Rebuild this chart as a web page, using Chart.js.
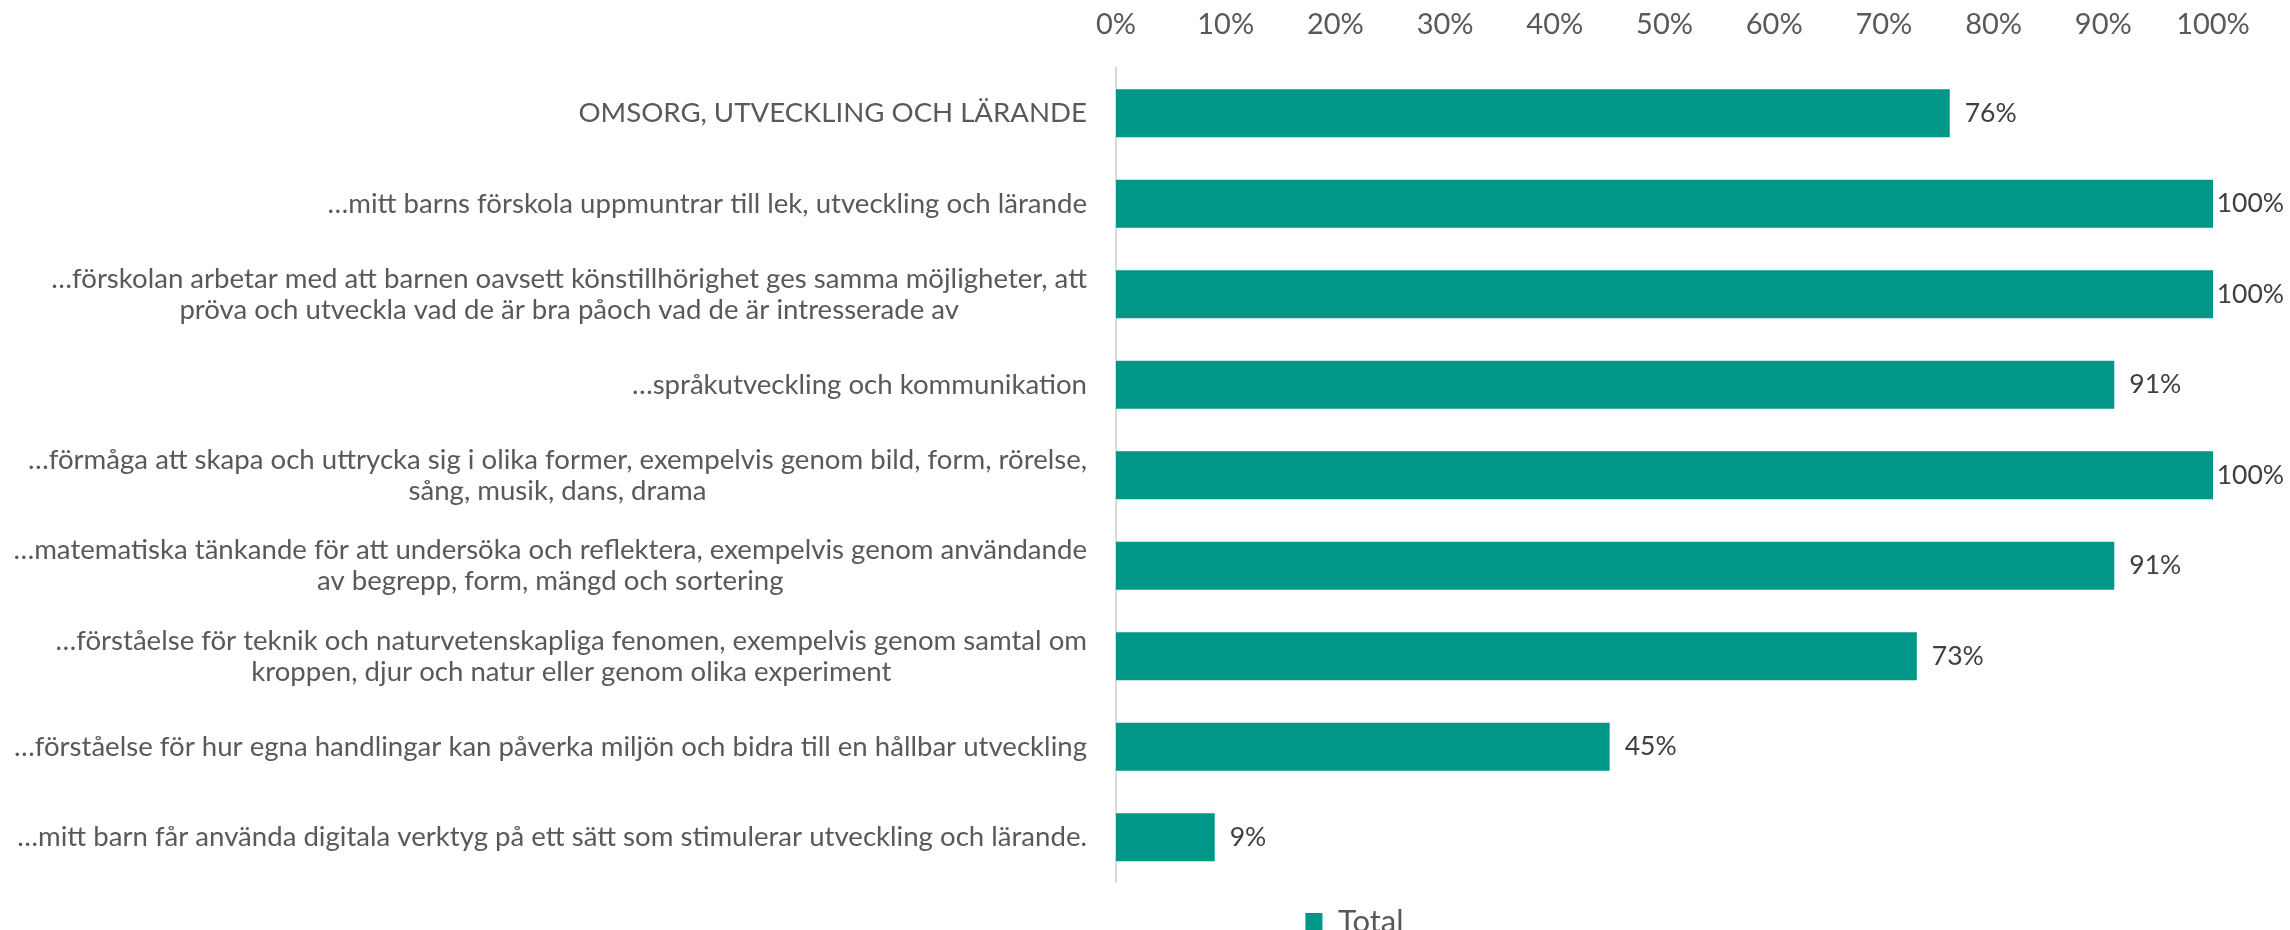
<!DOCTYPE html>
<html>
<head>
<meta charset="utf-8">
<script src="https://cdn.jsdelivr.net/npm/chart.js@4/dist/chart.umd.min.js"></script>
<style>
  html, body { margin: 0; padding: 0; background: #fff; overflow: hidden; }
  #wrap { width: 2290px; height: 947px; }
</style>
</head>
<body>
<div id="wrap"><canvas id="grafica" width="2290" height="947"></canvas></div>
<script>
// kategorier (rader i diagrammet)
const kategorier = [
  'OMSORG, UTVECKLING OCH LÄRANDE',
  '…mitt barns förskola uppmuntrar till lek, utveckling och lärande',
  ['…förskolan arbetar med att barnen oavsett könstillhörighet ges samma möjligheter, att', 'pröva och utveckla vad de är bra påoch vad de är intresserade av'],
  '…språkutveckling och kommunikation',
  ['…förmåga att skapa och uttrycka sig i olika former, exempelvis genom bild, form, rörelse,', 'sång, musik, dans, drama'],
  ['…matematiska tänkande för att undersöka och reflektera, exempelvis genom användande', 'av begrepp, form, mängd och sortering'],
  ['…förståelse för teknik och naturvetenskapliga fenomen, exempelvis genom samtal om', 'kroppen, djur och natur eller genom olika experiment'],
  '…förståelse för hur egna handlingar kan påverka miljön och bidra till en hållbar utveckling',
  '…mitt barn får använda digitala verktyg på ett sätt som stimulerar utveckling och lärande.'
];

// andel i procent
const total = [76, 100, 100, 91, 100, 91, 73, 45, 9];

const serieNamn = 'Total';
const procentTicks = [0, 10, 20, 30, 40, 50, 60, 70, 80, 90, 100];

const FONT = 'Lato';
const textGra = '#595959';

// egna etiketter: radetiketter (centrerade per etikett) och värden vid staplarna
const etiketter = {
  id: 'etiketter',
  afterDatasetsDraw(chart) {
    const ctx = chart.ctx;
    const y = chart.scales.y;
    const hoger = chart.chartArea.left - 29;
    ctx.save();
    ctx.fillStyle = textGra;
    ctx.font = '27.6px ' + FONT;
    ctx.textBaseline = 'middle';
    ctx.textAlign = 'center';
    const lh = 31;
    kategorier.forEach((lab, i) => {
      const rader = Array.isArray(lab) ? lab : [lab];
      const bredd = Math.max(...rader.map(r => ctx.measureText(r).width));
      const cx = hoger - bredd / 2;
      const yc = y.getPixelForTick(i);
      rader.forEach((r, j) => {
        ctx.fillText(r, cx, yc + (j - (rader.length - 1) / 2) * lh);
      });
    });

    // värden (trycks in om de inte får plats, som i Excel)
    ctx.fillStyle = '#404040';
    ctx.font = '26.5px ' + FONT;
    ctx.textAlign = 'left';
    const meta = chart.getDatasetMeta(0);
    meta.data.forEach((bar, i) => {
      const txt = total[i] + '%';
      const w = ctx.measureText(txt).width;
      const x = Math.min(bar.x + 15, chart.width - 6 - w);
      ctx.fillText(txt, x, bar.y);
    });
    ctx.restore();
  },
  afterLayout(chart) {
    // flytta förklaringen så den hamnar som i originalet
    chart.legend.left += 248;
    chart.legend.right += 248;
  }
};

new Chart(document.getElementById('grafica'), {
  type: 'bar',
  data: {
    labels: kategorier,
    datasets: [{
      label: serieNamn,
      data: total,
      backgroundColor: '#009688',
      borderWidth: 0,
      barPercentage: 0.53,
      categoryPercentage: 1
    }]
  },
  options: {
    indexAxis: 'y',
    responsive: false,
    animation: false,
    devicePixelRatio: 1,
    layout: { padding: { left: 0, right: 77, top: 0, bottom: 0 } },
    plugins: {
      tooltip: { enabled: false },
      legend: {
        position: 'bottom',
        labels: {
          color: textGra,
          font: { family: FONT, size: 31 },
          boxWidth: 17,
          boxHeight: 17,
          padding: 23.5
        }
      }
    },
    scales: {
      x: {
        position: 'top',
        min: 0,
        max: 100,
        afterBuildTicks: s => { s.ticks = procentTicks.map(v => ({ value: v })); },
        ticks: {
          color: textGra,
          font: { family: FONT, size: 29 },
          padding: 26,
          maxRotation: 0,
          callback: v => v + '%'
        },
        grid: { display: false, drawTicks: false },
        border: { display: false },
        afterFit: s => { s.height = 68; }
      },
      y: {
        ticks: { display: false },
        grid: { display: false, drawTicks: false },
        border: { display: true, color: '#d9d9d9', width: 2 },
        afterFit: s => { s.width = 1116; }
      }
    }
  },
  plugins: [etiketter]
});
</script>
</body>
</html>
